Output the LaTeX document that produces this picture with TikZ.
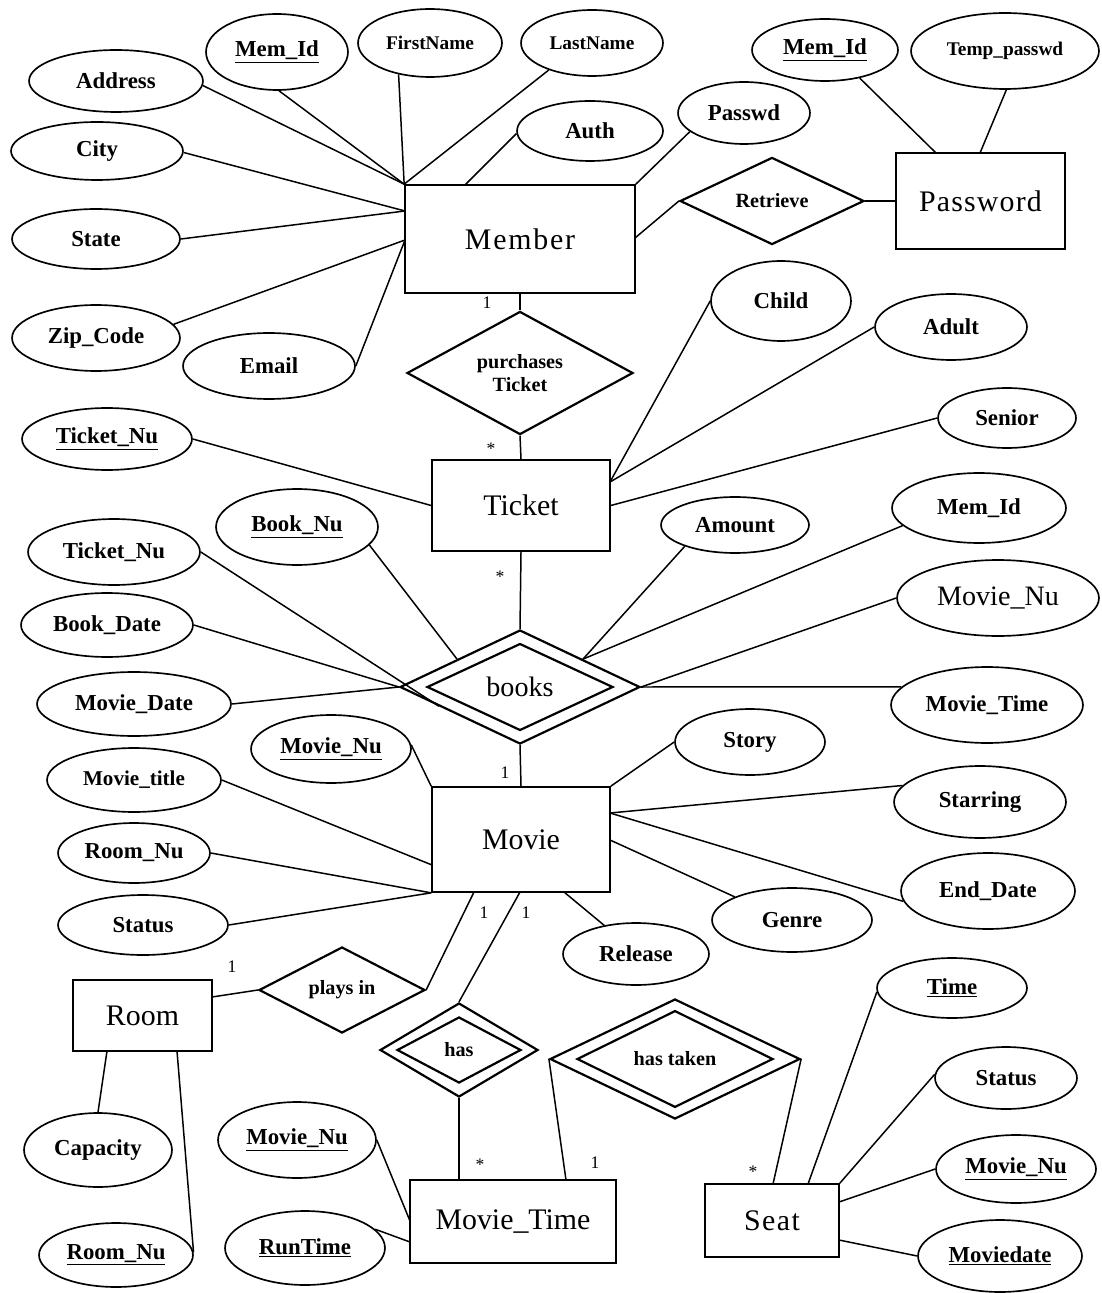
\documentclass[tikz,border=0pt]{standalone}
\usepackage{fontspec}
\setmainfont{Liberation Serif}
\usetikzlibrary{shapes.geometric,calc}
\newcommand\fA{\bfseries\fontsize{13}{15}\selectfont}
\newcommand\fS{\bfseries\fontsize{11}{13}\selectfont}
\newcommand\fT{\bfseries\fontsize{12}{14}\selectfont}
\newcommand\fE{\fontsize{17}{20}\selectfont}
\newcommand\fN{\fontsize{16}{19}\selectfont}
\newcommand\fR{\bfseries\fontsize{11.5}{13}\selectfont}
\newcommand\fC{\fontsize{10}{12}\selectfont}
\begin{document}
\begin{tikzpicture}[x=0.02cm,y=-0.02cm,
  attr/.style={ellipse,draw,line width=0.95pt,inner sep=0pt,font=\fA},
  esz/.style n args={2}{minimum width=#1*0.04cm,minimum height=#2*0.04cm},
  ent/.style={rectangle,draw,line width=0.95pt,inner sep=0pt,font=\fE},
  rsz/.style n args={2}{minimum width=#1*0.02cm,minimum height=#2*0.02cm},
  rel/.style={diamond,draw,line width=1.25pt,inner sep=0pt,font=\fR},
  conn/.style={line width=0.85pt},
  card/.style={inner sep=0pt,font=\fC}]
\fill[white] (0,0) rectangle (1101,1293);
\useasboundingbox (0,0) rectangle (1101,1293);

% entities
\node[ent,rsz={230}{108}] (member) at (520,239) {\addfontfeature{LetterSpace=6}Member};
\node[ent,rsz={169}{96}] (password) at (980.5,201) {\addfontfeature{LetterSpace=4}Password};
\node[ent,rsz={178}{91}] (ticket) at (521,505.5) {Ticket};
\node[ent,rsz={178}{105}] (movie) at (521,839.5) {Movie};
\node[ent,rsz={139}{71}] (room) at (142.5,1015.5) {Room};
\node[ent,rsz={206}{83}] (movietime) at (513,1221.5) {Movie\_Time};
\node[ent,rsz={134}{73}] (seat) at (772,1220.5) {\addfontfeature{LetterSpace=5}Seat};

% relationships
\node[rel,rsz={184}{84}] (retrieve) at (772,201) {Retrieve};
\node[rel,rsz={226}{110},align=center] (purchases) at (520,373) {purchases\\Ticket};
\node[rel,rsz={240}{114}] (booksO) at (520,687) {};
\node[rel,rsz={186}{86},font=\fN] (books) at (520,687) {books};
\node[rel,rsz={166}{86}] (playsin) at (342,990) {plays in};
\node[rel,rsz={158}{94}] (hasO) at (459,1050) {};
\node[rel,rsz={124}{66}] (has) at (459,1050) {has};
\node[rel,rsz={250}{120}] (hastakenO) at (675,1059) {};
\node[rel,rsz={196}{90}] (hastaken) at (675,1059) {has taken};

% attributes
\node[attr,esz={87}{31}] (addr) at (116,81) {Address};
\node[attr,esz={71}{38}] (memid1) at (277,52) {\underline{Mem\_Id}};
\node[attr,esz={72}{34},font=\fS] (fname) at (430,43) {FirstName};
\node[attr,esz={71}{33},font=\fS] (lname) at (592,43) {LastName};
\node[attr,esz={73}{30}] (auth) at (590,131) {Auth};
\node[attr,esz={66}{31}] (passwd) at (744,113) {Passwd};
\node[attr,esz={86}{29}] (city) at (97,151) {City};
\node[attr,esz={84}{30}] (state) at (96,239) {State};
\node[attr,esz={84}{33}] (zip) at (96,338) {Zip\_Code};
\node[attr,esz={86}{33}] (email) at (269,366) {Email};
\node[attr,esz={73}{31}] (memid2) at (825,50) {\underline{Mem\_Id}};
\node[attr,esz={94}{38},font=\fS] (temppw) at (1005,51) {Temp\_passwd};
\node[attr,esz={70}{40}] (child) at (781,301) {Child};
\node[attr,esz={76}{33}] (adult) at (951,327) {Adult};
\node[attr,esz={69}{30}] (senior) at (1007,418) {Senior};
\node[attr,esz={85}{31}] (tnum1) at (107,439) {\underline{Ticket\_Nu}};
\node[attr,esz={81}{38}] (booknu) at (297,527) {\underline{Book\_Nu}};
\node[attr,esz={86}{33}] (tnum2) at (114,552) {Ticket\_Nu};
\node[attr,esz={86}{32}] (bookdate) at (107,625) {Book\_Date};
\node[attr,esz={97}{32}] (moviedate) at (134,704) {Movie\_Date};
\node[attr,esz={74}{28}] (amount) at (735,525) {Amount};
\node[attr,esz={87}{35}] (memid3) at (979,508) {Mem\_Id};
\node[attr,esz={101}{38},font=\fN] (movienu3) at (998,598) {Movie\_Nu};
\node[attr,esz={96}{38}] (movietimeA) at (987,705) {Movie\_Time};
\node[attr,esz={80}{34}] (movienu1) at (331,749) {\underline{Movie\_Nu}};
\node[attr,esz={87}{32},font=\fT] (movietitle) at (134,780) {Movie\_title};
\node[attr,esz={75}{33}] (story) at (750,742) {Story};
\node[attr,esz={86}{36}] (starring) at (980,802) {Starring};
\node[attr,esz={76}{30}] (roomnu1) at (134,853) {Room\_Nu};
\node[attr,esz={85}{30}] (status1) at (143,925) {Status};
\node[attr,esz={87}{38}] (enddate) at (988,891) {End\_Date};
\node[attr,esz={80}{32}] (genre) at (792,920) {Genre};
\node[attr,esz={73}{31}] (release) at (636,954) {Release};
\node[attr,esz={74}{37}] (capacity) at (98,1150) {Capacity};
\node[attr,esz={77}{32}] (roomnu2) at (116,1255) {\underline{Room\_Nu}};
\node[attr,esz={79}{38}] (movienu2) at (297,1140) {\underline{Movie\_Nu}};
\node[attr,esz={80}{37}] (runtime) at (305,1248) {\underline{RunTime}};
\node[attr,esz={75}{30}] (time) at (952,988) {\underline{Time}};
\node[attr,esz={71}{31}] (status2) at (1006,1078) {Status};
\node[attr,esz={80}{34}] (movienu4) at (1016,1169) {\underline{Movie\_Nu}};
\node[attr,esz={82}{36}] (moviedate2) at (1000,1256) {\underline{Moviedate}};

% attachment points
\coordinate (mAuth) at (465,185);
\coordinate (mL1) at (405,211);
\coordinate (mL2) at (405,240);
\coordinate (mRet) at (635,238);
\coordinate (pw1) at (936,153);
\coordinate (pw2) at (980,153);
\coordinate (tkR1) at (610,482);
\coordinate (bkUL) at ($(booksO.west)!0.48!(booksO.north)$);
\coordinate (bkLL) at ($(booksO.west)!0.33!(booksO.south)$);
\coordinate (bkUR) at ($(booksO.north)!0.52!(booksO.east)$);
\coordinate (mvL1) at (432,865);
\coordinate (mvR1) at (610,813);
\coordinate (mvR2) at (610,840);
\coordinate (mvB1) at (564,892);
\coordinate (mvB2) at (474,892);
\coordinate (mvB3) at (520,892);
\coordinate (roomR) at (212,997);
\coordinate (roomB1) at (107,1051);
\coordinate (roomB2) at (177,1051);
\coordinate (mtT1) at (459,1180);
\coordinate (mtT2) at (566,1180);
\coordinate (mtL1) at (410,1221);
\coordinate (mtL2) at (410,1242);
\coordinate (seatT1) at (773,1184);
\coordinate (seatT2) at (808,1184);
\coordinate (seatR1) at (839,1202);
\coordinate (seatR2) at (839,1240);

% connectors: Member
\draw[conn] (addr.-3) -- (member.north west);
\draw[conn] (memid1.-87) -- (member.north west);
\draw[conn] (fname.225) -- (member.north west);
\draw[conn] (lname.212) -- (member.north west);
\draw[conn] (auth.182) -- (mAuth);
\draw[conn] (passwd.199) -- (member.north east);
\draw[conn] (city.-1) -- (mL1);
\draw[conn] (state.east) -- (mL1);
\draw[conn] (zip.10) -- (mL2);
\draw[conn] (email.east) -- (mL2);
\draw[conn] (mRet) -- (retrieve.west);
\draw[conn] (retrieve.east) -- (password.west);
\draw[conn] (memid2.-39) -- (pw1);
\draw[conn] (temppw.-88) -- (pw2);
\draw[conn] (member.south) -- (purchases.north);
\draw[conn] (purchases.south) -- (ticket.north);
% Ticket
\draw[conn] (tnum1.east) -- (ticket.west);
\draw[conn] (child.west) -- (tkR1);
\draw[conn] (adult.west) -- (tkR1);
\draw[conn] (senior.west) -- (ticket.east);
\draw[conn] (ticket.south) -- (booksO.north);
% books
\draw[conn] (booknu.-14) -- (bkUL);
\draw[conn] (tnum2.east) -- (bkLL);
\draw[conn] (bookdate.east) -- (booksO.west);
\draw[conn] (moviedate.east) -- (booksO.west);
\draw[conn] (amount.-157) -- (bkUR);
\draw[conn] (memid3.-167) -- (bkUR);
\draw[conn] (movienu3.west) -- (booksO.east);
\draw[conn] (movietimeA.168) -- (booksO.east);
\draw[conn] (booksO.south) -- (movie.north);
% Movie
\draw[conn] (movienu1.3) -- (movie.north west);
\draw[conn] (movietitle.east) -- (mvL1);
\draw[conn] (roomnu1.east) -- (movie.south west);
\draw[conn] (status1.east) -- (movie.south west);
\draw[conn] (story.west) -- (movie.north east);
\draw[conn] (starring.168) -- (mvR1);
\draw[conn] (enddate.187) -- (mvR1);
\draw[conn] (genre.158) -- (mvR2);
\draw[conn] (release.138) -- (mvB1);
\draw[conn] (playsin.east) -- (mvB2);
\draw[conn] (roomR) -- (playsin.west);
\draw[conn] (hasO.north) -- (mvB3);
\draw[conn] (hasO.south) -- (mtT1);
\draw[conn] (hastakenO.west) -- (mtT2);
\draw[conn] (hastakenO.east) -- (seatT1);
% Room, Movie_Time, Seat
\draw[conn] (capacity.north) -- (roomB1);
\draw[conn] (roomnu2.2) -- (roomB2);
\draw[conn] (movienu2.east) -- (mtL1);
\draw[conn] (runtime.15) -- (mtL2);
\draw[conn] (time.183) -- (seatT2);
\draw[conn] (status2.177) -- (seat.north east);
\draw[conn] (movienu4.west) -- (seatR1);
\draw[conn] (moviedate2.west) -- (seatR2);

% cardinalities
\node[card] (c1) at (487,303) {1};
\node[card] (c2) at (491,449) {*};
\node[card] (c3) at (500,577) {*};
\node[card] (c4) at (505,773) {1};
\node[card] (c5) at (484,913) {1};
\node[card] (c6) at (526,913) {1};
\node[card] (c7) at (232,967) {1};
\node[card] (c8) at (480,1165) {*};
\node[card] (c9) at (595,1163) {1};
\node[card] (c10) at (753,1172) {*};
\end{tikzpicture}
\end{document}
